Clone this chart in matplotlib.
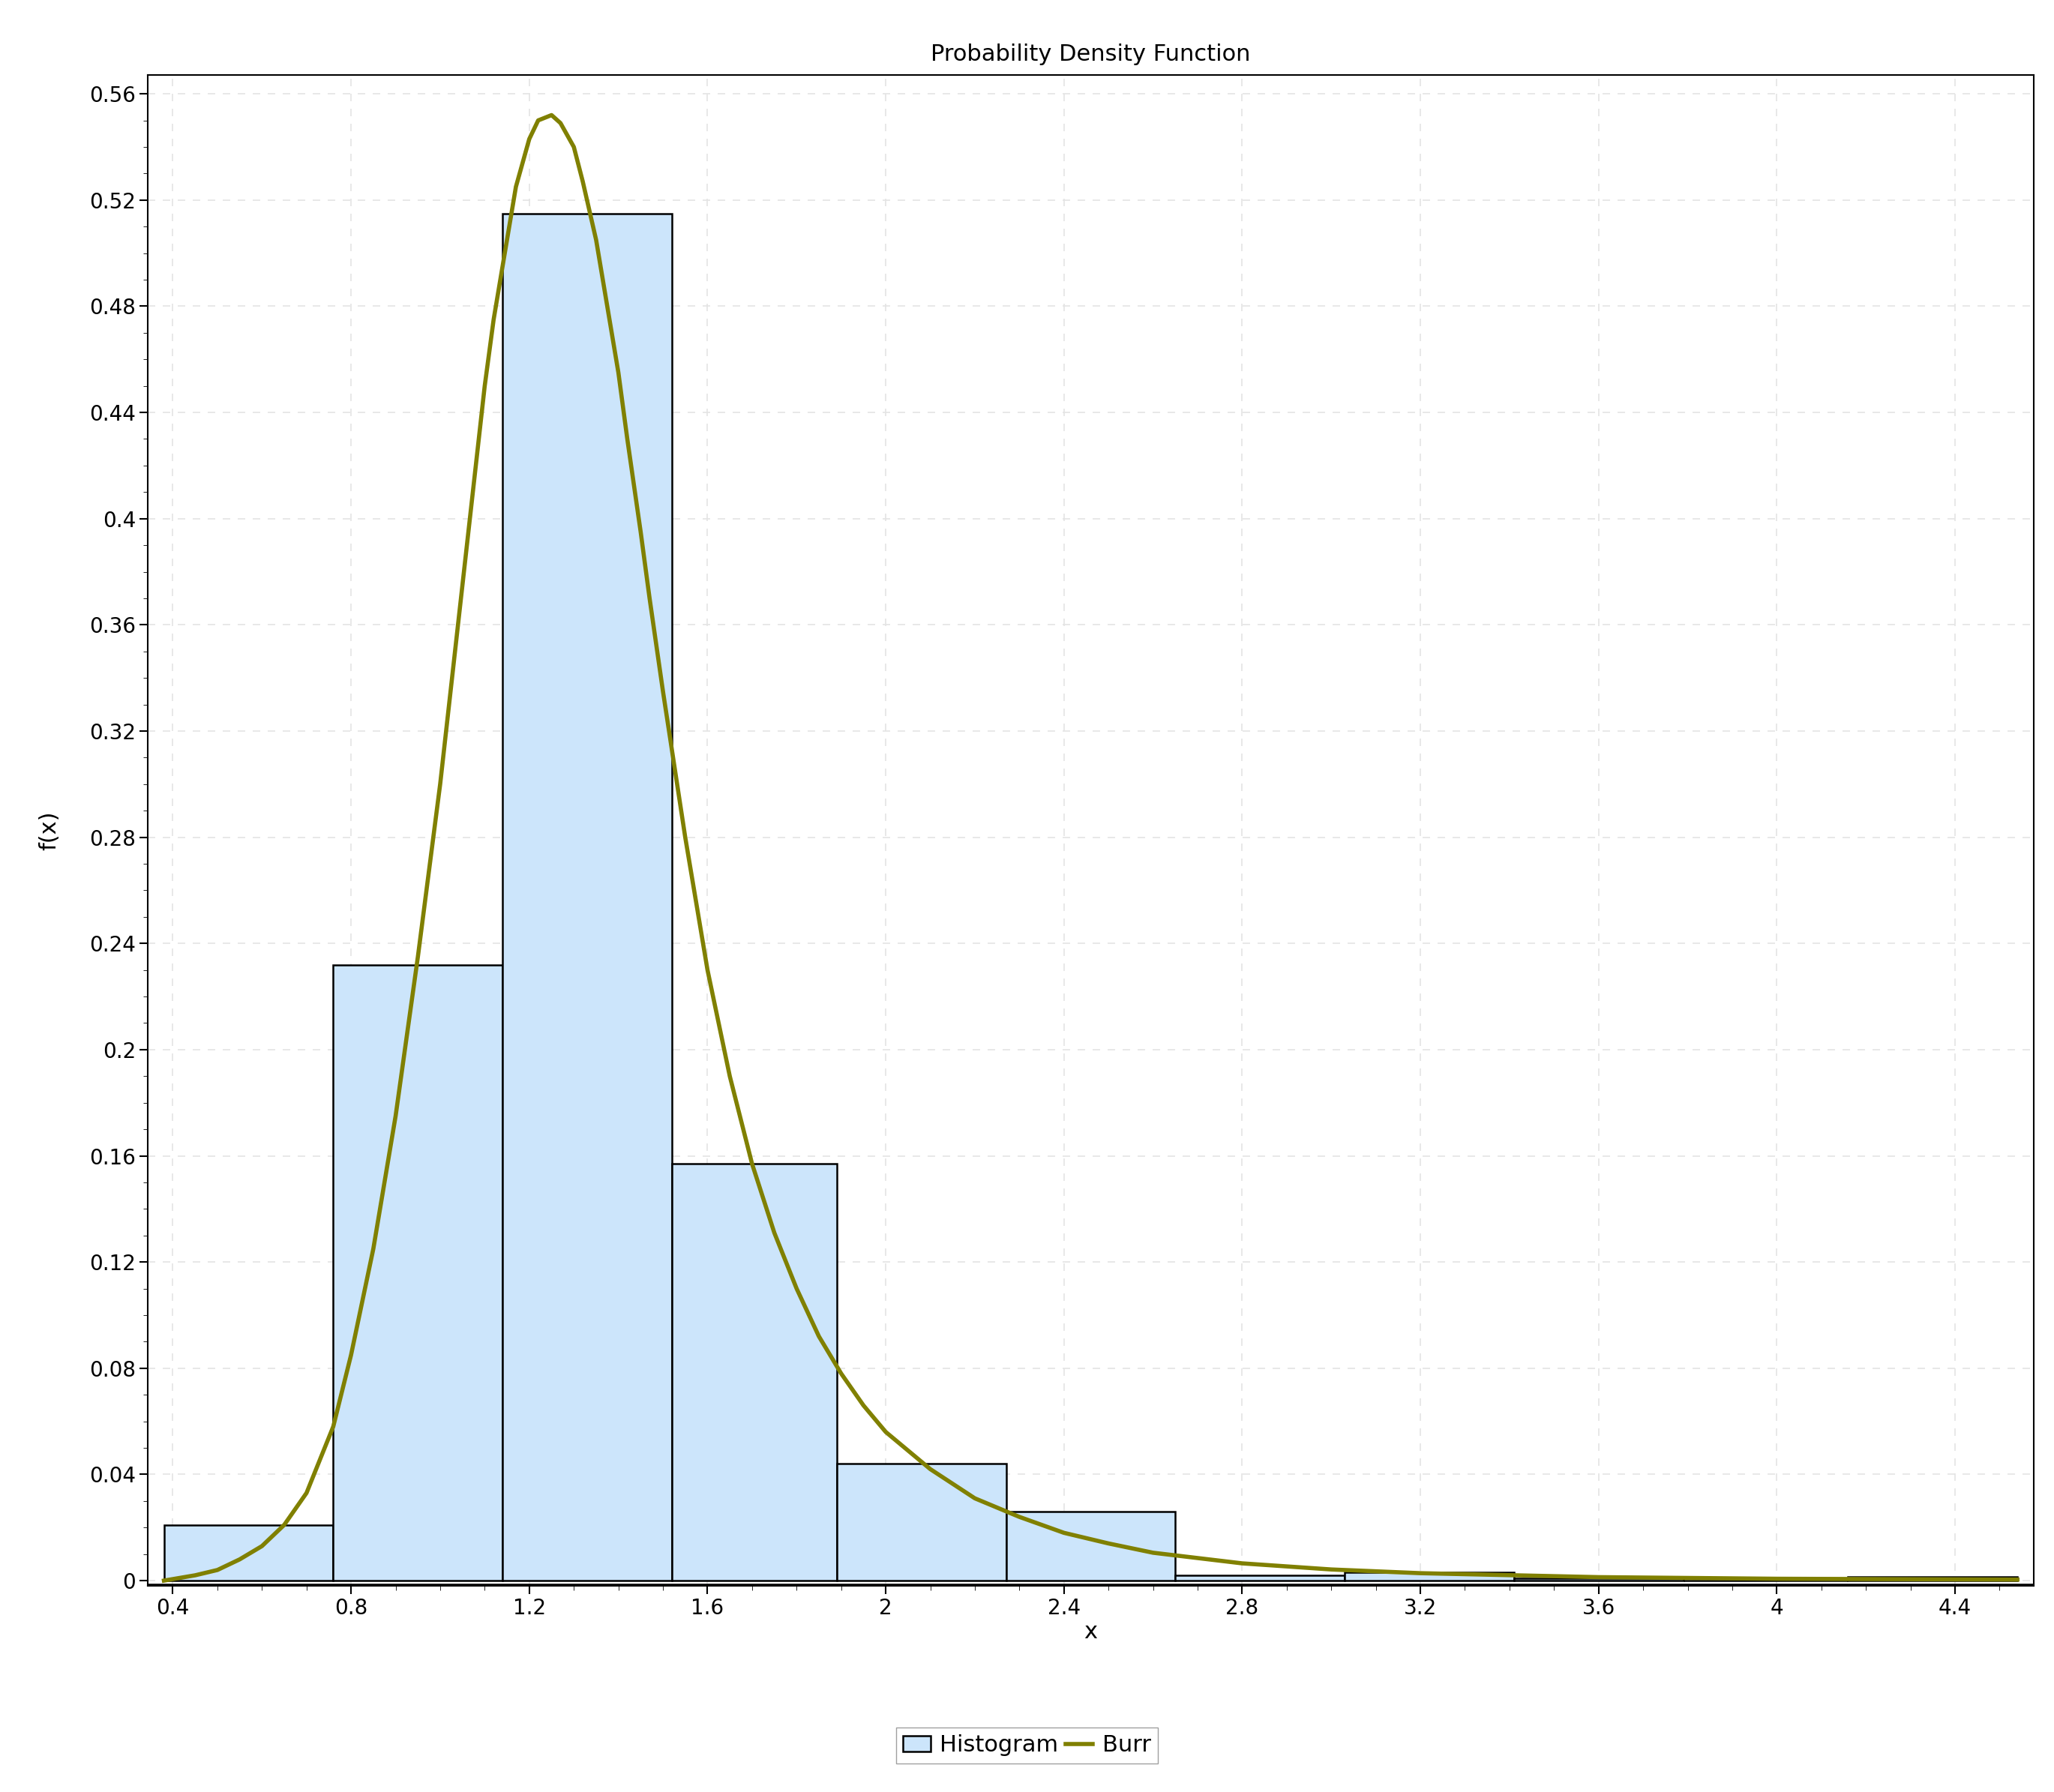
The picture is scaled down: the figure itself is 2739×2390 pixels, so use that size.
import numpy as np
import matplotlib.pyplot as plt
from matplotlib.patches import Patch
from matplotlib.lines import Line2D
from matplotlib.ticker import MultipleLocator, AutoMinorLocator

# histogram bins
bin_edges = [0.38, 0.76, 1.14, 1.52, 1.89, 2.27, 2.65, 3.03, 3.41, 3.79, 4.16, 4.54]
bin_heights = [0.021, 0.232, 0.515, 0.157, 0.044, 0.026, 0.002, 0.003, 0.001, 0.0, 0.0015]

# fitted Burr pdf
burr_x = [0.38, 0.45, 0.5, 0.55, 0.6, 0.65, 0.7, 0.76, 0.8, 0.85, 0.9, 0.95, 1.0, 1.05, 1.1,
          1.12, 1.15, 1.17, 1.2, 1.22, 1.25, 1.27, 1.3, 1.32, 1.35, 1.37, 1.4, 1.42, 1.45,
          1.47, 1.5, 1.55, 1.6, 1.65, 1.7, 1.75, 1.8, 1.85, 1.9, 1.95, 2.0,
          2.1, 2.2, 2.3, 2.4, 2.5, 2.6, 2.8, 3.0, 3.2, 3.6, 4.0, 4.54]
burr_y = [0.0, 0.002, 0.004, 0.008, 0.013, 0.021, 0.033, 0.058, 0.085, 0.125, 0.175, 0.235,
          0.30, 0.375, 0.45, 0.475, 0.505, 0.525, 0.543, 0.55, 0.552, 0.549, 0.54, 0.527,
          0.505, 0.485, 0.455, 0.43, 0.395, 0.37, 0.335, 0.28, 0.23, 0.19, 0.157, 0.131,
          0.11, 0.092, 0.078, 0.066, 0.056, 0.042, 0.031, 0.024, 0.018, 0.014, 0.0105,
          0.0065, 0.0042, 0.0028, 0.0013, 0.0007, 0.0004]

fig = plt.figure(figsize=(27.39, 23.90), dpi=100)
ax = fig.add_axes([0.072, 0.115, 0.918, 0.843])

widths = np.diff(bin_edges)
ax.bar(bin_edges[:-1], bin_heights, width=widths, align='edge',
       color='#cce5fb', edgecolor='black', linewidth=1.8, zorder=2)
ax.plot(burr_x, burr_y, color='#808000', linewidth=4, zorder=3, solid_joinstyle='round')

ax.set_xlim(0.344, 4.576)
ax.set_ylim(-0.002, 0.567)
ax.xaxis.set_major_locator(MultipleLocator(0.4))
ax.yaxis.set_major_locator(MultipleLocator(0.04))
ax.xaxis.set_minor_locator(AutoMinorLocator(4))
ax.yaxis.set_minor_locator(AutoMinorLocator(4))
ax.xaxis.set_major_formatter(plt.FuncFormatter(lambda v, p: f'{v:.2f}'.rstrip('0').rstrip('.')))
ax.yaxis.set_major_formatter(plt.FuncFormatter(lambda v, p: f'{v:.2f}'.rstrip('0').rstrip('.')))
ax.tick_params(labelsize=20, length=8, width=1.5)
ax.tick_params(which='minor', length=4)
ax.grid(True, linestyle=(0, (6, 6)), color='#e4e4e4', linewidth=1.2, zorder=0)
ax.axhline(-0.002, color='black', linewidth=4)
for s in ax.spines.values():
    s.set_linewidth(1.5)

ax.set_title('Probability Density Function', fontsize=22, pad=14)
ax.set_xlabel('x', fontsize=22, labelpad=2)
ax.set_ylabel('f(x)', fontsize=22, labelpad=28)

handles = [Patch(facecolor='#cce5fb', edgecolor='black', linewidth=1.8),
           Line2D([0], [0], color='#808000', linewidth=4)]
fig.legend(handles, ['Histogram', 'Burr'], loc='center', bbox_to_anchor=(0.5, 0.026),
           ncol=2, fontsize=22, frameon=True, fancybox=False, edgecolor='#888888',
           handlelength=1.2, handletextpad=0.4, columnspacing=0.3, borderpad=0.3)

fig.savefig('out.png', dpi=100, facecolor='white')
